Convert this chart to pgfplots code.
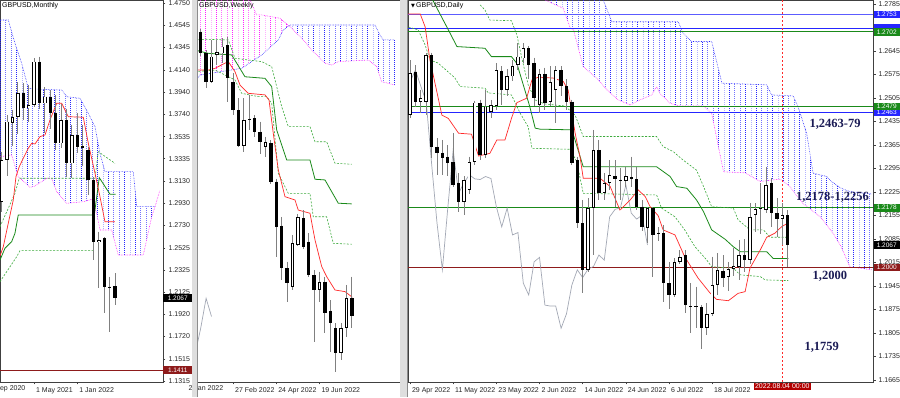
\documentclass[border=0pt]{standalone}
\usepackage{fontspec}
\setmainfont{Liberation Sans}
\newfontfamily\annfont{Liberation Serif}
\newfontfamily\symfont{DejaVu Sans}
\usepackage{pgfplots}
\pgfplotsset{compat=1.18}
\usepackage{pgfplotstable}
\usetikzlibrary{patterns}

\definecolor{mtred}{HTML}{FF2A2A}
\definecolor{mtgreen}{HTML}{1A8A1A}
\definecolor{mtgreendash}{HTML}{3CAA3C}
\definecolor{mtblue}{HTML}{2525FF}
\definecolor{mtmag}{HTML}{FF20FF}
\definecolor{mtgray}{HTML}{A3A8B5}
\definecolor{mtmaroon}{HTML}{8E1B1B}
\definecolor{anncol}{HTML}{1B1B55}

\pgfdeclarepatternformonly{mtdots}{\pgfqpoint{0pt}{0pt}}{\pgfqpoint{0.8pt}{1pt}}{\pgfqpoint{5.4pt}{2pt}}{\pgfpathrectangle{\pgfqpoint{0pt}{0pt}}{\pgfqpoint{0.8pt}{1pt}}\pgfusepath{fill}}

\pgfplotsset{
  mtaxis/.style={scale only axis, enlargelimits=false, clip mode=individual,
    axis line style={black!75, line width=0.5pt},
    tick align=outside, major tick length=2.5pt,
    tick style={black!75, line width=0.4pt},
    ticklabel style={font=\fontsize{7}{8}\selectfont, text=black!85},
    yticklabel pos=right, ytick pos=right, xtick pos=bottom,
    xticklabel style={anchor=north west, xshift=-1.5pt, yshift=0.5pt},
    yticklabel style={anchor=west, xshift=-0.5pt}},
  cwick/.style={draw=none, mark=none, forget plot, error bars/.cd, y dir=minus, y explicit, error mark=none, error bar style={line width=0.9pt, draw=black!50}},
  cbody/.style={draw=none, mark=none, forget plot, error bars/.cd, y dir=minus, y explicit, error mark=none, error bar style={line width=3.4pt, draw=black}},
  cwhite/.style={draw=none, mark=none, forget plot, error bars/.cd, y dir=minus, y explicit, error mark=none, error bar style={line width=1.8pt, draw=white}},
  tenkan/.style={mtred, line width=0.7pt, mark=none},
  kijun/.style={mtgreen, line width=0.8pt, mark=none},
  gdash/.style={mtgreendash, line width=0.6pt, dash pattern=on 2pt off 1.5pt, mark=none},
  chikou/.style={mtgray, line width=0.7pt, mark=none},
  senkA/.style={mtblue, line width=0.6pt, densely dotted, mark=none},
  senkB/.style={mtmag, line width=0.6pt, densely dotted, mark=none},
}
\newcommand{\plab}[4][26.5pt]{\node[fill=#2, text=white, font=\fontsize{6.5}{7}\selectfont, inner sep=0.6pt, anchor=west, minimum height=7.6pt, minimum width=#1, xshift=0.3pt] at ({rel axis cs:1,0} |- {axis cs:0,#3}) {#4};}
\newcommand{\ann}[3]{\node[font=\annfont\bfseries\fontsize{12.5}{14}\selectfont, text=anncol, inner sep=0pt] at (axis cs:#1,#2) {#3};}

\pgfplotstableread{
i O H L C
0 1.2944 1.3398 1.2853 1.3322
1 1.3322 1.3732 1.3180 1.3671
2 1.3656 1.3777 1.3450 1.3711
3 1.3711 1.4030 1.3560 1.3934
4 1.3934 1.4020 1.3686 1.3792
5 1.3792 1.4004 1.3670 1.3822
6 1.3822 1.4247 1.3800 1.4216
7 1.4216 1.4262 1.3787 1.3837
8 1.3837 1.3983 1.3571 1.3898
9 1.3898 1.3960 1.3600 1.3753
10 1.3753 1.3913 1.3412 1.3474
11 1.3474 1.3834 1.3434 1.3686
12 1.3686 1.3790 1.3171 1.3292
13 1.3292 1.3640 1.3160 1.3550
14 1.3550 1.3749 1.3383 1.3444
15 1.3450 1.3644 1.3272 1.3430
16 1.3414 1.3444 1.3000 1.3141
17 1.3141 1.3167 1.2413 1.2580
18 1.2580 1.2671 1.2156 1.2595
19 1.2610 1.2619 1.1928 1.2170
20 1.2172 1.2262 1.1762 1.2165
21 1.2177 1.2292 1.2004 1.2067
}\monthly

\pgfplotstableread{
i O H L C
0 1.3684 1.3700 1.3545 1.3561
1 1.3561 1.3580 1.3363 1.3400
2 1.3400 1.3637 1.3391 1.3542
3 1.3552 1.3637 1.3495 1.3570
4 1.3561 1.3647 1.3505 1.3599
5 1.3608 1.3656 1.3287 1.3419
6 1.3400 1.3448 1.3211 1.3239
7 1.3239 1.3306 1.3030 1.3037
8 1.3037 1.3306 1.3003 1.3183
9 1.3181 1.3325 1.3126 1.3190
10 1.3192 1.3211 1.3088 1.3116
11 1.3116 1.3173 1.2990 1.3060
12 1.3031 1.3088 1.2974 1.3059
13 1.3050 1.3069 1.2820 1.2832
14 1.2832 1.2850 1.2406 1.2577
15 1.2582 1.2633 1.2274 1.2340
16 1.2340 1.2378 1.2151 1.2255
17 1.2233 1.2530 1.2217 1.2482
18 1.2473 1.2650 1.2465 1.2633
19 1.2624 1.2671 1.2450 1.2463
20 1.2492 1.2539 1.2290 1.2302
21 1.2302 1.2331 1.1924 1.2217
22 1.2217 1.2321 1.2151 1.2264
23 1.2264 1.2293 1.1971 1.2085
24 1.2100 1.2160 1.1867 1.2028
25 1.2000 1.2028 1.1753 1.1858
26 1.1858 1.2028 1.1820 1.2000
27 1.2000 1.2246 1.1952 1.2170
28 1.2170 1.2293 1.2000 1.2067
}\weekly

\pgfplotstableread{
i O H L C
0 1.2454 1.2618 1.2444 1.2579
1 1.2583 1.2603 1.2479 1.2494
2 1.2494 1.2530 1.2460 1.2504
3 1.2494 1.2638 1.2454 1.2633
4 1.2633 1.2640 1.2325 1.2360
5 1.2360 1.2385 1.2276 1.2342
6 1.2342 1.2380 1.2276 1.2327
7 1.2330 1.2365 1.2271 1.2312
8 1.2315 1.2400 1.2241 1.2246
9 1.2251 1.2281 1.2166 1.2196
10 1.2196 1.2271 1.2157 1.2261
11 1.2231 1.2330 1.2220 1.2315
12 1.2315 1.2497 1.2305 1.2491
13 1.2491 1.2500 1.2320 1.2335
14 1.2335 1.2529 1.2325 1.2479
15 1.2464 1.2499 1.2445 1.2484
16 1.2481 1.2608 1.2469 1.2588
17 1.2586 1.2600 1.2484 1.2529
18 1.2529 1.2590 1.2510 1.2569
19 1.2569 1.2617 1.2555 1.2600
20 1.2603 1.2668 1.2588 1.2628
21 1.2623 1.2668 1.2610 1.2653
22 1.2653 1.2660 1.2560 1.2603
23 1.2610 1.2625 1.2480 1.2505
24 1.2484 1.2590 1.2460 1.2577
25 1.2577 1.2595 1.2470 1.2489
26 1.2492 1.2600 1.2480 1.2552
27 1.2529 1.2600 1.2430 1.2588
28 1.2588 1.2600 1.2510 1.2540
29 1.2540 1.2560 1.2470 1.2494
30 1.2494 1.2500 1.2305 1.2310
31 1.2320 1.2330 1.2117 1.2133
32 1.2132 1.2201 1.1925 1.1993
33 1.1993 1.2206 1.1988 1.2177
34 1.2177 1.2410 1.2037 1.2350
35 1.2350 1.2380 1.2200 1.2221
36 1.2221 1.2281 1.2201 1.2252
37 1.2252 1.2320 1.2230 1.2276
38 1.2273 1.2320 1.2181 1.2264
39 1.2261 1.2296 1.2201 1.2262
40 1.2259 1.2300 1.2240 1.2271
41 1.2270 1.2330 1.2240 1.2265
42 1.2263 1.2300 1.2170 1.2181
43 1.2181 1.2200 1.2110 1.2121
44 1.2117 1.2180 1.2072 1.2177
45 1.2177 1.2180 1.1973 1.2097
46 1.2100 1.2120 1.2080 1.2104
47 1.2102 1.2127 1.1898 1.1953
48 1.1953 1.2017 1.1875 1.1918
49 1.1918 1.2027 1.1913 1.2017
50 1.2017 1.2052 1.2010 1.2030
51 1.2037 1.2052 1.1865 1.1888
52 1.1885 1.1954 1.1805 1.1885
53 1.1885 1.1943 1.1819 1.1885
54 1.1883 1.1888 1.1756 1.1819
55 1.1819 1.1893 1.1799 1.1862
56 1.1862 1.2032 1.1855 1.1948
57 1.1948 1.2042 1.1918 1.1993
58 1.1990 1.2037 1.1943 1.1970
59 1.1971 1.2017 1.1930 1.1995
60 1.1995 1.2057 1.1975 1.2003
61 1.2002 1.2082 1.1963 1.2037
62 1.2037 1.2085 1.1988 1.2022
63 1.2022 1.2191 1.2010 1.2151
64 1.2156 1.2191 1.2107 1.2173
65 1.2174 1.2251 1.2100 1.2178
66 1.2171 1.2300 1.2163 1.2246
67 1.2251 1.2267 1.2120 1.2162
68 1.2162 1.2206 1.2092 1.2144
69 1.2144 1.2191 1.2067 1.2156
70 1.2156 1.2171 1.2001 1.2067
}\daily

\begin{document}
\begin{tikzpicture}
\path[use as bounding box] (0,0) rectangle (900pt,397pt);
\fill[white] (0,0) rectangle (900pt,397pt);

%================ MONTHLY =================
\begin{axis}[mtaxis, at={(0pt,15pt)}, anchor=south west, width=163pt, height=382pt,
  xmin=-0.31, xmax=29.87, ymin=1.13043, ymax=1.4777,
  ytick={1.1315,1.1515,1.1720,1.1920,1.2125,1.2325,1.2525,1.2730,1.2930,1.3130,1.3335,1.3535,1.3740,1.3940,1.4140,1.4345,1.4545,1.4750},
  yticklabels={1.1315,1.1515,1.1720,1.1920,1.2125,1.2325,1.2525,1.2730,1.2930,1.3130,1.3335,1.3535,1.3740,1.3940,1.4140,1.4345,1.4545,1.4750},
  xtick={6,14}, xticklabels={1 May 2021,1 Jan 2022}]
% cloud
\addplot[draw=none, pattern=mtdots, pattern color=mtblue, forget plot] coordinates {
(-0.31,1.4595)(1.22,1.4595)(2.46,1.4383)(3.70,1.4202)(4.93,1.3974)(7.09,1.3965)(11.11,1.3959)(12.04,1.3898)(14.5,1.3883)(16.04,1.3747)(17.28,1.3625)(18.2,1.3383)(19.13,1.3216)(24.37,1.3216)(25.0,1.2898)(28.39,1.2898)
(27.78,1.2807)(26.22,1.2459)(21.59,1.2459)(20.37,1.2686)(18.2,1.2686)(17.59,1.2841)(16.67,1.2965)(15.11,1.2943)(12.04,1.2929)(10.19,1.3034)(9.26,1.3156)(8.33,1.3156)(6.17,1.3086)(5.24,1.3074)(3.07,1.3171)(1.85,1.3368)(-0.31,1.3352)} -- cycle;
\addplot[senkA] coordinates {(-0.31,1.4595)(1.22,1.4595)(2.46,1.4383)(3.70,1.4202)(4.93,1.3974)(7.09,1.3965)(11.11,1.3959)(12.04,1.3898)(14.5,1.3883)(16.04,1.3747)(17.28,1.3625)(18.2,1.3383)(19.13,1.3216)(24.37,1.3216)(25.0,1.2898)(28.39,1.2898)};
\addplot[senkB] coordinates {(-0.31,1.3352)(1.85,1.3368)(3.07,1.3171)(5.24,1.3074)(6.17,1.3086)(8.33,1.3156)(9.26,1.3156)(10.19,1.3034)(12.04,1.2929)(15.11,1.2943)(16.67,1.2965)(17.59,1.2841)(18.2,1.2686)(20.37,1.2686)(21.59,1.2459)(26.22,1.2459)(27.78,1.2807)(28.39,1.2898)(29.31,1.3050)};
% lines
\addplot[gdash] coordinates {(-0.31,1.2716)(1.22,1.2883)(2.46,1.3020)(3.26,1.3156)(17.28,1.3156)(17.89,1.3398)(20.98,1.3292)};
\addplot[gdash] coordinates {(-0.31,1.2216)(1.54,1.2352)(2.78,1.2443)(3.39,1.2498)(16.96,1.2498)};
\addplot[kijun] coordinates {(-0.31,1.2413)(0.61,1.2520)(1.85,1.2580)(2.46,1.2656)(3.07,1.2822)(17.15,1.2822)(18.07,1.3162)(20.06,1.3011)(21.11,1.3011)};
\addplot[tenkan] coordinates {(-0.31,1.2450)(0.30,1.2534)(1.22,1.2747)(2.15,1.2959)(2.65,1.3171)(3.26,1.3262)(4.0,1.3338)(4.93,1.3429)(5.56,1.3474)(6.17,1.3468)(7.09,1.3534)(8.02,1.3550)(8.94,1.3686)(10.19,1.3838)(11.11,1.3838)(12.33,1.3716)(15.11,1.3711)(16.04,1.3474)(17.28,1.3202)(18.2,1.2989)(19.13,1.2761)(20.98,1.2761)};
\addplot[mtmaroon, line width=0.8pt] coordinates {(-0.31,1.1411)(29.87,1.1411)};
% candles
\addplot[cwick] table[x=i, y=H, y error minus expr={\thisrow{H}-\thisrow{L}}] {\monthly};
\addplot[cbody] table[x=i, y expr={max(\thisrow{O},\thisrow{C})}, y error minus expr={max(abs(\thisrow{O}-\thisrow{C}),0.0009)}] {\monthly};
\addplot[cwhite] table[x=i, y expr={\thisrow{C}>\thisrow{O} ? \thisrow{C}-0.00073 : 0}, y error minus expr={\thisrow{C}>\thisrow{O} ? max(\thisrow{C}-\thisrow{O}-0.00146,0) : 0}] {\monthly};
\node[anchor=north west, font=\fontsize{7}{8}\selectfont, inner sep=1pt] at (rel axis cs:0,1) [xshift=1pt, yshift=-1.5pt] {GBPUSD,Monthly};
\node[anchor=north west, font=\fontsize{7}{8}\selectfont, text=black!85, inner sep=0pt] at (axis cs:-2,1.13043) [xshift=-1.5pt, yshift=-3.3pt] {1 Sep 2020};
\plab[28.5pt]{black}{1.2067}{1.2067}
\plab[28.5pt]{mtmaroon}{1.1411}{1.1411}
\end{axis}

%================ WEEKLY =================
\begin{axis}[mtaxis, at={(197pt,15pt)}, anchor=south west, width=203pt, height=382pt,
  xmin=-0.685, xmax=36.91, ymin=1.16948, ymax=1.3864, ytick=\empty,
  xtick={6,14,22}, xticklabels={27 Feb 2022,24 Apr 2022,19 Jun 2022}]
\addplot[draw=none, pattern=mtdots, pattern color=mtmag, forget plot] coordinates {
(-1.06,1.3949)(8.57,1.3949)(9.13,1.3864)(10.37,1.3779)(11.30,1.3779)(14.69,1.3760)(16.4,1.3717)(15.30,1.3694)(14.37,1.3637)(11.30,1.3552)(9.44,1.3514)(7.59,1.3476)(-0.13,1.3438)(-1.06,1.3400)} -- cycle;
\addplot[draw=none, pattern=mtdots, pattern color=mtblue, forget plot] coordinates {
(16.4,1.3717)(16.54,1.3722)(32.28,1.3722)(33.20,1.3665)(33.83,1.3637)(35.98,1.3637)(35.98,1.3381)(33.52,1.3400)(32.59,1.3485)(31.04,1.3523)(25.48,1.3514)(24.26,1.3495)(23.02,1.3505)(20.56,1.3580)(19.31,1.3627)(16.85,1.3703)} -- cycle;
\addplot[senkB] coordinates {(-1.06,1.3949)(8.57,1.3949)(9.13,1.3864)(10.37,1.3779)(11.30,1.3779)(14.69,1.3760)(16.85,1.3703)(19.31,1.3627)(20.56,1.3580)(23.02,1.3505)(24.26,1.3495)(25.48,1.3514)(31.04,1.3523)(32.59,1.3485)(33.52,1.3400)(35.98,1.3381)};
\addplot[senkA] coordinates {(-1.06,1.3400)(-0.13,1.3438)(7.59,1.3476)(9.44,1.3514)(11.30,1.3552)(14.37,1.3637)(15.30,1.3694)(16.54,1.3722)(32.28,1.3722)(33.20,1.3665)(33.83,1.3637)(35.98,1.3637)};
\addplot[gdash] coordinates {(-1.06,1.3637)(0.80,1.3641)(5.11,1.3637)(6.35,1.3533)(8.81,1.3523)(11.30,1.3514)(13.15,1.3485)(15.0,1.3258)(16.22,1.3145)(20.24,1.3145)(21.17,1.3059)(23.33,1.3059)(24.87,1.2937)(27.96,1.2931)};
\addplot[gdash] coordinates {(-1.06,1.3457)(2.65,1.3466)(6.35,1.3410)(7.59,1.3334)(10.67,1.3315)(12.22,1.3315)(13.15,1.3277)(14.37,1.2880)(16.22,1.2766)(20.24,1.2766)(20.85,1.2633)(23.33,1.2633)(24.56,1.2482)(27.96,1.2477)};
\addplot[kijun] coordinates {(-1.06,1.3580)(0.19,1.3570)(1.41,1.3561)(5.74,1.3552)(8.20,1.3428)(11.91,1.3419)(13.15,1.3372)(14.07,1.3126)(15.93,1.2955)(20.24,1.2955)(21.17,1.2846)(23.02,1.2842)(25.48,1.2710)(27.96,1.2706)};
\addplot[tenkan] coordinates {(-1.06,1.3466)(1.41,1.3466)(2.65,1.3476)(4.5,1.3505)(5.11,1.3514)(6.35,1.3457)(7.28,1.3381)(8.81,1.3334)(11.91,1.3325)(12.65,1.3296)(13.44,1.3107)(14.37,1.2899)(15.61,1.2747)(17.46,1.2728)(18.07,1.2671)(20.24,1.2653)(21.17,1.2501)(22.41,1.2350)(23.33,1.2293)(24.87,1.2217)(26.72,1.2208)(28.07,1.2176)};
\addplot[chikou] coordinates {(-1,1.1858)(0,1.2000)(1,1.2170)(2,1.2067)};
\addplot[cwick] table[x=i, y=H, y error minus expr={\thisrow{H}-\thisrow{L}}] {\weekly};
\addplot[cbody] table[x=i, y expr={max(\thisrow{O},\thisrow{C})}, y error minus expr={max(abs(\thisrow{O}-\thisrow{C}),0.00057)}] {\weekly};
\addplot[cwhite] table[x=i, y expr={\thisrow{C}>\thisrow{O} ? \thisrow{C}-0.00045 : 0}, y error minus expr={\thisrow{C}>\thisrow{O} ? max(\thisrow{C}-\thisrow{O}-0.0009,0) : 0}] {\weekly};
\node[anchor=north west, font=\fontsize{7}{8}\selectfont, inner sep=1pt] at (rel axis cs:0,1) [xshift=1pt, yshift=-1.5pt] {GBPUSD,Weekly};
\node[anchor=north west, font=\fontsize{7}{8}\selectfont, text=black!85, inner sep=0pt] at (axis cs:-2,1.16948) [xshift=-1.5pt, yshift=-3.3pt] {2 Jan 2022};
\end{axis}

%================ DAILY =================
\begin{axis}[mtaxis, at={(408pt,15pt)}, anchor=south west, width=465pt, height=382pt,
  xmin=-0.371, xmax=85.80, ymin=1.16590, ymax=1.27969,
  ytick={1.1665,1.1735,1.1805,1.1875,1.1945,1.2015,1.2085,1.2155,1.2225,1.2295,1.2365,1.2435,1.2505,1.2575,1.2645,1.2715,1.2785},
  yticklabels={1.1665,1.1735,1.1805,1.1875,1.1945,1.2015,1.2085,1.2155,1.2225,1.2295,1.2365,1.2435,1.2505,1.2575,1.2645,1.2715,1.2785},
  xtick={0,8,16,24,32,40,48,56},
  xticklabels={29 Apr 2022,11 May 2022,23 May 2022,2 Jun 2022,14 Jun 2022,24 Jun 2022,6 Jul 2022,18 Jul 2022}]
% cloud
\addplot[draw=none, pattern=mtdots, pattern color=mtblue, forget plot] coordinates {
(24.5,1.2827)(35.2,1.2827)(35.8,1.2797)(37.4,1.2732)(49.7,1.2732)(50.6,1.2698)(52.2,1.2673)(55.9,1.2673)(57.8,1.2549)(66.1,1.2544)(67.0,1.2514)(71.0,1.2511)(71.9,1.2479)(73.5,1.2400)(74.7,1.2281)(77.2,1.2271)(78.1,1.2256)(79.9,1.2236)(81.5,1.2226)(85.6,1.2219)
(85.6,1.1993)(81.5,1.2002)(79.9,1.2062)(78.4,1.2102)(76.0,1.2151)(72.8,1.2191)(70.4,1.2241)(68.6,1.2263)(67.3,1.2261)(64.9,1.2256)(62.1,1.2282)(58.1,1.2285)(55.9,1.2459)(54.4,1.2481)(50.0,1.2481)(48.2,1.2489)(46.3,1.2519)(45.7,1.2539)(44.8,1.2514)(42.6,1.2499)(40.8,1.2484)(38.6,1.2499)(36.5,1.2529)(34.9,1.2559)(32.1,1.2598)(30.3,1.2708)(29.7,1.2713)(28.4,1.2772)(25.0,1.2797)} -- cycle;
\addplot[senkA] coordinates {(35.2,1.2827)(35.8,1.2797)(37.4,1.2732)(49.7,1.2732)(50.6,1.2698)(52.2,1.2673)(55.9,1.2673)(57.8,1.2549)(66.1,1.2544)(67.0,1.2514)(71.0,1.2511)(71.9,1.2479)(73.5,1.2400)(74.7,1.2281)(77.2,1.2271)(78.1,1.2256)(79.9,1.2236)(81.5,1.2226)(85.6,1.2219)};
\addplot[senkB] coordinates {(24.5,1.2827)(25.0,1.2797)(28.4,1.2772)(29.7,1.2713)(30.3,1.2708)(32.1,1.2598)(34.9,1.2559)(36.5,1.2529)(38.6,1.2499)(40.8,1.2484)(42.6,1.2499)(44.8,1.2514)(45.7,1.2539)(46.3,1.2519)(48.2,1.2489)(50.0,1.2481)(54.4,1.2481)(55.9,1.2459)(58.1,1.2285)(62.1,1.2282)(64.9,1.2256)(67.3,1.2261)(68.6,1.2263)(70.4,1.2241)(72.8,1.2191)(76.0,1.2151)(78.4,1.2102)(79.9,1.2062)(81.5,1.2002)(85.6,1.1993)};
% horizontal levels
\addplot[mtblue!75, line width=1.1pt] coordinates {(-0.371,1.2753)(85.80,1.2753)};
\addplot[mtblue, line width=0.7pt] coordinates {(-0.371,1.2712)(85.80,1.2712)};
\addplot[mtgreen, line width=0.7pt] coordinates {(-0.371,1.2702)(85.80,1.2702)};
\addplot[mtgreen, line width=0.7pt] coordinates {(-0.371,1.2479)(85.80,1.2479)};
\addplot[mtblue, line width=0.7pt] coordinates {(-0.371,1.2463)(85.80,1.2463)};
\addplot[mtgreen, line width=0.7pt] coordinates {(-0.371,1.2178)(85.80,1.2178)};
\addplot[mtmaroon, line width=0.8pt] coordinates {(-0.371,1.2000)(85.80,1.2000)};
% ichimoku lines
\addplot[chikou] coordinates {(-1,1.2489)(0,1.2552)(1,1.2588)(2,1.2540)(3,1.2494)(4,1.2310)(5,1.2133)(6,1.1993)(7,1.2177)(8,1.2350)(9,1.2221)(10,1.2252)(11,1.2276)(12,1.2264)(13,1.2262)(14,1.2271)(15,1.2265)(16,1.2181)(17,1.2121)(18,1.2177)(19,1.2097)(20,1.2104)(21,1.1953)(22,1.1918)(23,1.2017)(24,1.2030)(25,1.1888)(26,1.1885)(27,1.1885)(28,1.1819)(29,1.1862)(30,1.1948)(31,1.1993)(32,1.1970)(33,1.1995)(34,1.2003)(35,1.2037)(36,1.2022)(37,1.2151)(38,1.2173)(39,1.2178)(40,1.2246)(41,1.2162)(42,1.2144)(43,1.2156)(44,1.2067)};
\addplot[gdash] coordinates {(-0.9,1.2719)(1.5,1.2708)(2.8,1.2663)(3.7,1.2618)(5.2,1.2609)(8.3,1.2565)(9.3,1.2539)(13.9,1.2534)(14.5,1.2520)(18.8,1.2514)(20.4,1.2460)(21.9,1.2419)(22.6,1.2355)(29.7,1.2352)(30.9,1.2315)(32.1,1.2221)(45.7,1.2216)(46.6,1.2177)(49.1,1.2151)(50.9,1.2112)(52.8,1.2062)(55.0,1.2022)(55.9,1.2002)(59.9,1.1998)(61.2,1.1978)(64.9,1.1973)(65.8,1.1963)(70.1,1.1961)};
\addplot[gdash] coordinates {(13.0,1.2782)(13.9,1.2767)(14.8,1.2737)(18.8,1.2735)(19.8,1.2693)(20.8,1.2618)(21.9,1.2544)(23.2,1.2499)(25.0,1.2487)(28.7,1.2481)(30.6,1.2454)(32.1,1.2390)(45.7,1.2390)(46.9,1.2360)(48.8,1.2345)(50.6,1.2320)(53.1,1.2290)(54.4,1.2241)(55.9,1.2181)(59.9,1.2177)(60.8,1.2142)(63.0,1.2112)(65.5,1.2112)(66.7,1.2090)(69.8,1.2090)};
\addplot[kijun] coordinates {(3.7,1.2812)(7.1,1.2708)(8.7,1.2658)(13.9,1.2653)(15.1,1.2628)(18.8,1.2628)(19.8,1.2608)(22.2,1.2479)(23.2,1.2415)(24.1,1.2412)(30.0,1.2410)(32.1,1.2300)(45.7,1.2300)(48.2,1.2271)(49.4,1.2241)(51.3,1.2236)(53.1,1.2201)(54.4,1.2166)(55.9,1.2112)(58.4,1.2084)(59.9,1.2062)(61.2,1.2047)(66.1,1.2047)(67.3,1.2027)(70.1,1.2027)};
\addplot[tenkan] coordinates {(-0.9,1.2755)(1.9,1.2755)(2.8,1.2717)(3.7,1.2618)(4.9,1.2529)(5.9,1.2454)(7.1,1.2444)(9.0,1.2400)(11.4,1.2397)(12.7,1.2332)(14.8,1.2340)(16.1,1.2380)(17.6,1.2380)(18.8,1.2444)(19.8,1.2491)(21.6,1.2504)(22.6,1.2559)(23.8,1.2567)(26.6,1.2564)(28.4,1.2554)(29.3,1.2529)(29.7,1.2489)(30.6,1.2400)(31.5,1.2330)(32.1,1.2266)(35.2,1.2266)(37.1,1.2241)(38.9,1.2171)(40.8,1.2201)(42.3,1.2231)(43.6,1.2211)(44.5,1.2181)(46.0,1.2154)(46.9,1.2112)(49.1,1.2097)(50.9,1.2032)(53.4,1.1968)(55.6,1.1924)(56.8,1.1905)(59.0,1.1901)(60.8,1.1923)(62.1,1.1928)(63.0,1.1998)(64.9,1.2052)(66.1,1.2090)(67.6,1.2102)(68.9,1.2122)(69.8,1.2130)};
\addplot[mtred, line width=0.5pt, dash pattern=on 2pt off 2pt] coordinates {(69,1.16590)(69,1.27969)};
% candles
\addplot[cwick] table[x=i, y=H, y error minus expr={\thisrow{H}-\thisrow{L}}] {\daily};
\addplot[cbody] table[x=i, y expr={max(\thisrow{O},\thisrow{C})}, y error minus expr={max(abs(\thisrow{O}-\thisrow{C}),0.0003)}] {\daily};
\addplot[cwhite] table[x=i, y expr={\thisrow{C}>\thisrow{O} ? \thisrow{C}-0.00024 : 0}, y error minus expr={\thisrow{C}>\thisrow{O} ? max(\thisrow{C}-\thisrow{O}-0.00048,0) : 0}] {\daily};
% texts
\node[anchor=north west, font=\fontsize{7}{8}\selectfont, inner sep=1pt] at (rel axis cs:0,1) [xshift=2pt, yshift=-1.5pt] {{\symfont\fontsize{5}{6}\selectfont ▼}\,GBPUSD,Daily};
\ann{78.76}{1.2427}{1,2463-79}
\ann{78.3}{1.2209}{1,2178-1,2256}
\ann{77.8}{1.1973}{1,2000}
\ann{76.3}{1.1761}{1,1759}
\node[fill=red!70!black, text=white, font=\fontsize{7}{8}\selectfont, inner sep=1pt, anchor=north] at (axis cs:69,1.16590) [yshift=-0.5pt] {2022.08.04 00:00};
\plab{mtblue}{1.2753}{1.2753}
\plab{mtblue}{1.2714}{}
\plab{mtgreen}{1.2702}{1.2702}
\plab{mtblue}{1.2463}{1.2463}
\plab{mtgreen}{1.2479}{1.2479}
\plab{mtgreen}{1.2178}{1.2178}
\plab{black}{1.2067}{1.2067}
\plab{mtmaroon}{1.2000}{1.2000}
\end{axis}

% window separators
\fill[black!13] (191.5pt,0pt) rectangle (197pt,397pt);
\draw[black!45, line width=0.5pt] (196.8pt,0pt) -- (196.8pt,397pt);
\fill[black!13] (400.3pt,0pt) rectangle (407.7pt,397pt);
\draw[black!45, line width=0.5pt] (407.5pt,0pt) -- (407.5pt,397pt);
\end{tikzpicture}
\end{document}
